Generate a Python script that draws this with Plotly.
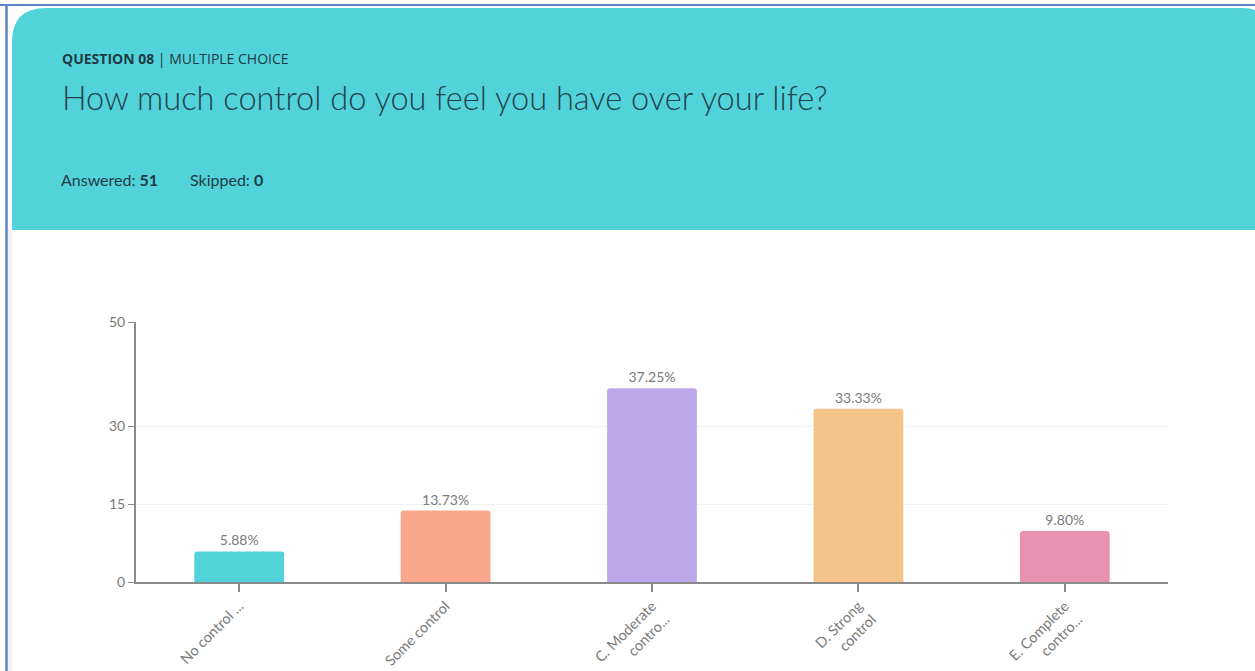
import plotly.graph_objects as go

# Survey results for question 08
categories = ["No control ...", "Some control", "C. Moderate<br>contro...",
              "D. Strong<br>control", "E. Complete<br>contro..."]
percentages = [5.88, 13.73, 37.25, 33.33, 9.80]
bar_colors = ["#52D3DA", "#F9A68B", "#BCA8E8", "#F4C48B", "#E991B0"]
y_ticks = [0, 15, 30, 50]

answered = 51
skipped = 0

W, H = 1255, 671
FONT = "Lato, Open Sans, sans-serif"


def px(x):
    return x / W


def py(y):
    return 1 - y / H


fig = go.Figure(
    go.Bar(
        x=categories,
        y=percentages,
        marker=dict(color=bar_colors, cornerradius=3, line=dict(width=0)),
        width=0.435,
        text=[f"{v:.2f}%" for v in percentages],
        textposition="outside",
        textfont=dict(family=FONT, size=14, color="#7A7A7A"),
        cliponaxis=False,
        hoverinfo="skip",
    )
)

# Header card with rounded top corners
x0, x1, y0, y1, r, r2 = 12, 1262, 8, 230, 34, 24
header_path = (
    f"M {px(x0)} {py(y1)} "
    f"L {px(x0)} {py(y0 + r)} "
    f"Q {px(x0)} {py(y0)} {px(x0 + r)} {py(y0)} "
    f"L {px(1255 - r2 + 12)} {py(y0)} "
    f"Q {px(1255 + 12)} {py(y0)} {px(1255 + 12)} {py(y0 + r2)} "
    f"L {px(x1)} {py(y1)} Z"
)

shapes = [
    dict(type="path", xref="paper", yref="paper", path=header_path,
         fillcolor="#52D3DA", line=dict(width=0), layer="below"),
    # faint shadow strip at the left edge of the card body
    dict(type="rect", xref="paper", yref="paper", x0=px(8), x1=px(12),
         y0=py(671), y1=py(230), fillcolor="#F2F2F4", line=dict(width=0), layer="below"),
    # outer frame lines
    dict(type="line", xref="paper", yref="paper", x0=0, x1=1, y0=py(5), y1=py(5),
         line=dict(color="#5B86C6", width=2)),
    dict(type="line", xref="paper", yref="paper", x0=px(6.5), x1=px(6.5), y0=0, y1=py(4),
         line=dict(color="#5B86C6", width=2.5)),
]

txt = "#1F3B45"
annotations = [
    dict(x=px(60), y=py(58), xref="paper", yref="paper", xanchor="left", yanchor="middle",
         text="<b>QUESTION 08</b> | MULTIPLE CHOICE", showarrow=False,
         font=dict(family="Open Sans, Lato, sans-serif", size=14, color=txt)),
    dict(x=px(60), y=py(98), xref="paper", yref="paper", xanchor="left", yanchor="middle",
         text="How much control do you feel you have over your life?", showarrow=False,
         font=dict(family=FONT, size=32.6, color="#22424D", weight=300)),
    dict(x=px(59), y=py(180), xref="paper", yref="paper", xanchor="left", yanchor="middle",
         text=f"Answered: <b>{answered}</b>", showarrow=False,
         font=dict(family=FONT, size=16, color=txt)),
    dict(x=px(188), y=py(180), xref="paper", yref="paper", xanchor="left", yanchor="middle",
         text=f"Skipped: <b>{skipped}</b>", showarrow=False,
         font=dict(family=FONT, size=16, color=txt)),
]

fig.update_layout(
    width=W, height=H,
    margin=dict(l=0, r=0, t=0, b=0, pad=0),
    paper_bgcolor="white",
    plot_bgcolor="white",
    showlegend=False,
    shapes=shapes,
    annotations=annotations,
    xaxis=dict(
        domain=[px(136), px(1168)],
        automargin=False,
        showline=True, linecolor="#8A8A8A", linewidth=2,
        ticks="outside", ticklen=8, tickcolor="#8A8A8A", tickwidth=2,
        tickangle=-45,
        tickfont=dict(family=FONT, size=14.5, color="#7A7A7A"),
        showgrid=False, fixedrange=True,
    ),
    yaxis=dict(
        domain=[py(582), py(322)],
        automargin=False,
        range=[0, 50],
        tickvals=y_ticks,
        showline=True, linecolor="#8A8A8A", linewidth=2,
        ticks="outside", ticklen=6, tickcolor="#8A8A8A", tickwidth=1,
        tickfont=dict(family=FONT, size=14, color="#7A7A7A"),
        showgrid=True, gridcolor="#F0F0F0", gridwidth=1,
        zeroline=False, fixedrange=True,
    ),
)

fig.write_html("out.html", config={"displayModeBar": False})
